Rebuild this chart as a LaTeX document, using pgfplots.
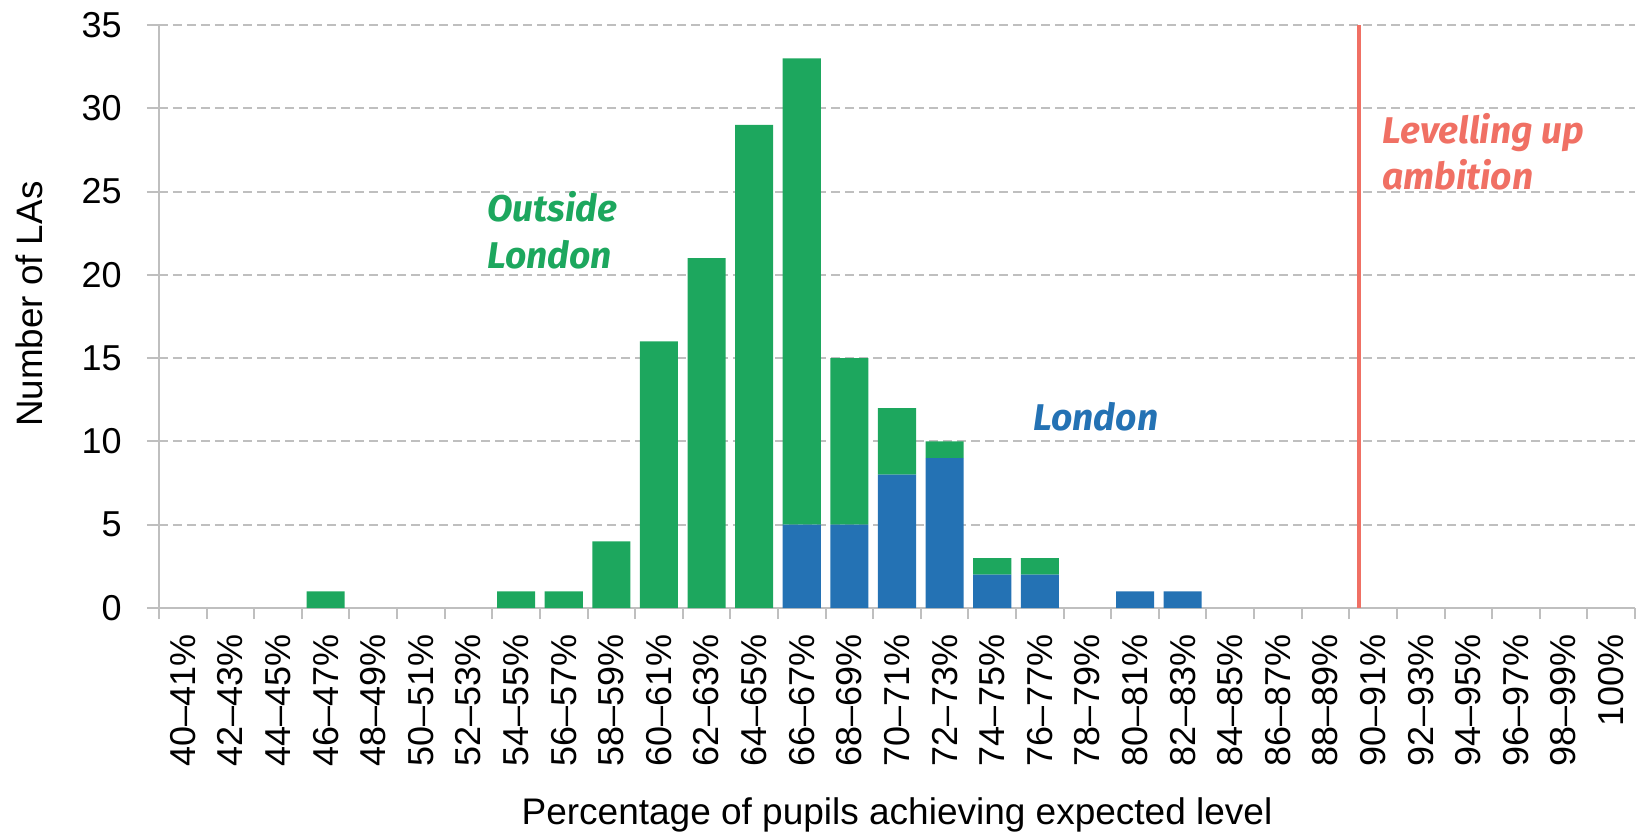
\documentclass[border=0pt]{standalone}
\usepackage{fontspec}
\setmainfont{Liberation Sans}
\newfontfamily\annot{Fira Sans}
\usepackage{pgfplots}
\pgfplotsset{compat=1.18}
\definecolor{cgreen}{RGB}{29,167,94}
\definecolor{cblue}{RGB}{36,114,180}
\definecolor{cred}{RGB}{240,112,100}
\definecolor{cgrid}{RGB}{191,191,191}
\begin{document}
\begin{tikzpicture}
\begin{axis}[
  width=738pt, height=291.5pt, scale only axis,
  xmin=-0.5, xmax=30.5, ymin=0, ymax=35,
  ybar stacked, bar width=0.8,
  axis x line*=bottom, axis y line*=left,
  axis line style={cgrid, line width=1pt, -},
  xtick={0,...,30},
  xticklabels={40–41\%,42–43\%,44–45\%,46–47\%,48–49\%,50–51\%,52–53\%,54–55\%,56–57\%,58–59\%,60–61\%,62–63\%,64–65\%,66–67\%,68–69\%,70–71\%,72–73\%,74–75\%,76–77\%,78–79\%,80–81\%,82–83\%,84–85\%,86–87\%,88–89\%,90–91\%,92–93\%,94–95\%,96–97\%,98–99\%,100\%},
  major x tick style={draw=none},
  minor xtick={-0.5,0.5,...,30.5},
  minor x tick style={draw=cgrid, line width=1pt},
  minor tick length=5.5pt,
  tick align=outside,
  ytick={0,5,...,35},
  major tick length=6pt,
  ytick style={draw=cgrid, line width=1pt},
  ymajorgrids,
  y grid style={cgrid, line width=1pt, dash pattern=on 4.5pt off 2.5pt},
  xticklabel style={rotate=90, anchor=east, inner sep=0pt, font=\fontsize{18}{21}\selectfont, xshift=-7pt},
  yticklabel style={inner sep=0pt, xshift=-12.5pt, font=\fontsize{18}{21}\selectfont, /pgf/number format/assume math mode=true},
  ylabel={Number of LAs},
  ylabel style={at={(axis description cs:-0.088,0.521)}, anchor=center, font=\fontsize{18.4}{22}\selectfont},
  xlabel={Percentage of pupils achieving expected level},
  xlabel style={at={(axis description cs:0.5,-0.372)}, anchor=base, font=\fontsize{18.5}{22}\selectfont},
  extra x ticks={24.7},
  extra x tick labels={},
  extra x tick style={grid=major, major grid style={cred, line width=2pt, solid}, major tick length=0pt},
  clip=false,
]
\addplot[fill=cblue, draw=none] coordinates {
(0,0) (1,0) (2,0) (3,0) (4,0) (5,0) (6,0) (7,0) (8,0) (9,0)
(10,0) (11,0) (12,0) (13,5) (14,5) (15,8) (16,9) (17,2) (18,2) (19,0)
(20,1) (21,1) (22,0) (23,0) (24,0) (25,0) (26,0) (27,0) (28,0) (29,0) (30,0)};
\addplot[fill=cgreen, draw=none] coordinates {
(0,0) (1,0) (2,0) (3,1) (4,0) (5,0) (6,0) (7,1) (8,1) (9,4)
(10,16) (11,21) (12,29) (13,28) (14,10) (15,4) (16,1) (17,1) (18,1) (19,0)
(20,0) (21,0) (22,0) (23,0) (24,0) (25,0) (26,0) (27,0) (28,0) (29,0) (30,0)};
\node[anchor=base west, text=cgreen, font=\annot\bfseries\itshape\fontsize{18.6}{21}\selectfont, inner sep=0pt] at (axis cs:6.39,23.2) {Outside};
\node[anchor=base west, text=cgreen, font=\annot\bfseries\itshape\fontsize{18.6}{21}\selectfont, inner sep=0pt] at (axis cs:6.39,20.4) {London};
\node[anchor=base west, text=cblue, font=\annot\bfseries\itshape\fontsize{18.6}{21}\selectfont, inner sep=0pt] at (axis cs:17.86,10.68) {London};
\node[anchor=base west, text=cred, font=\annot\bfseries\itshape\fontsize{18.6}{21}\selectfont, inner sep=0pt] at (axis cs:25.19,27.9) {Levelling up};
\node[anchor=base west, text=cred, font=\annot\bfseries\itshape\fontsize{18.6}{21}\selectfont, inner sep=0pt] at (axis cs:25.19,25.1) {ambition};
\end{axis}
\pgfresetboundingbox
\path[use as bounding box] ([shift={(-79.5pt,-113.5pt)}]current axis.south west) rectangle ([shift={(0.5pt,12.5pt)}]current axis.north east);
\end{tikzpicture}
\end{document}
